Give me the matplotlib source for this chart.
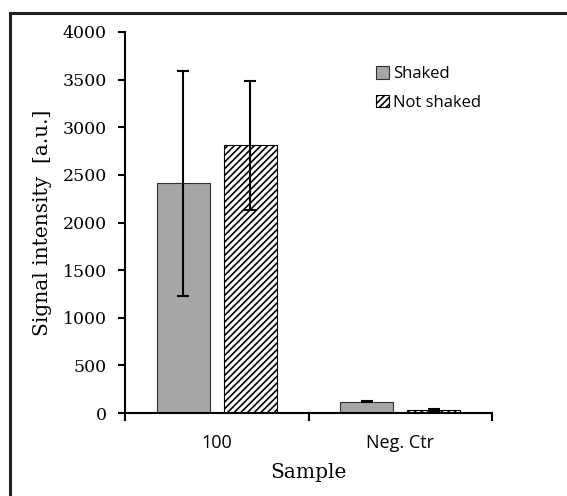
import matplotlib
matplotlib.use("Agg")
import matplotlib.pyplot as plt
from matplotlib.lines import Line2D
import numpy as np

# Данные
samples = ["100", "Neg. Ctr"]
shaked = [2410, 120]
shaked_err = [1185, 8]
not_shaked = [2810, 30]
not_shaked_err = [680, 12]
y_ticks = [0, 500, 1000, 1500, 2000, 2500, 3000, 3500, 4000]

serif = ["DejaVu Serif"]
sans = ["Open Sans", "DejaVu Sans"]
plt.rcParams["hatch.linewidth"] = 1.2

fig = plt.figure(figsize=(5.67, 4.96), dpi=100)
ax = fig.add_axes([0.2205, 0.1673, 0.6472, 0.7682])

x = np.arange(len(samples))
w = 0.29
off = 0.183
ax.bar(x - off, shaked, w, color="#a6a6a6", edgecolor="#303030", linewidth=0.8,
       label="Shaked", zorder=2)
ax.bar(x + off, not_shaked, w, color="white", edgecolor="black", linewidth=0.8,
       hatch="/////", label="Not shaked", zorder=2)
ax.errorbar(x - off, shaked, yerr=shaked_err, fmt="none", ecolor="black",
            elinewidth=1.5, capsize=4, capthick=1.5, zorder=3)
ax.errorbar(x + off, not_shaked, yerr=not_shaked_err, fmt="none", ecolor="black",
            elinewidth=1.5, capsize=4, capthick=1.5, zorder=3)

ax.set_xlim(-0.5, 1.5)
ax.set_ylim(0, 4000)
ax.set_yticks(y_ticks)
ax.set_yticklabels([str(v) for v in y_ticks], family=serif, fontsize=12.5)
ax.set_xticks(x)
ax.set_xticklabels(samples, family=sans, fontsize=13)
ax.set_xticks([-0.5, 0.5, 1.5], minor=True)
ax.tick_params(axis="x", which="major", length=0, pad=15)
ax.tick_params(axis="x", which="minor", length=6, width=1.5, direction="out")
ax.tick_params(axis="y", length=5, width=1.5, direction="out", pad=8)

for s in ["top", "right"]:
    ax.spines[s].set_visible(False)
for s in ["left", "bottom"]:
    ax.spines[s].set_linewidth(1.5)

ax.set_ylabel("Signal intensity  [a.u.]", family=serif, fontsize=14.5, labelpad=8)
ax.set_xlabel("Sample", family=serif, fontsize=14.5, labelpad=8)

leg = ax.legend(loc="upper left", bbox_to_anchor=(0.643, 0.95), frameon=False,
                prop={"family": sans, "size": 12}, handlelength=0.8,
                handleheight=0.8, handletextpad=0.2, labelspacing=0.75)

# рамка вокруг картинки (как в Excel)
fig.add_artist(Line2D([10 / 567, 10 / 567], [0, 1 - 13 / 496], transform=fig.transFigure,
                      color="#202020", linewidth=2.2))
fig.add_artist(Line2D([10 / 567, 1], [1 - 13 / 496, 1 - 13 / 496], transform=fig.transFigure,
                      color="#202020", linewidth=2.2))

fig.savefig("out.png", dpi=100)
